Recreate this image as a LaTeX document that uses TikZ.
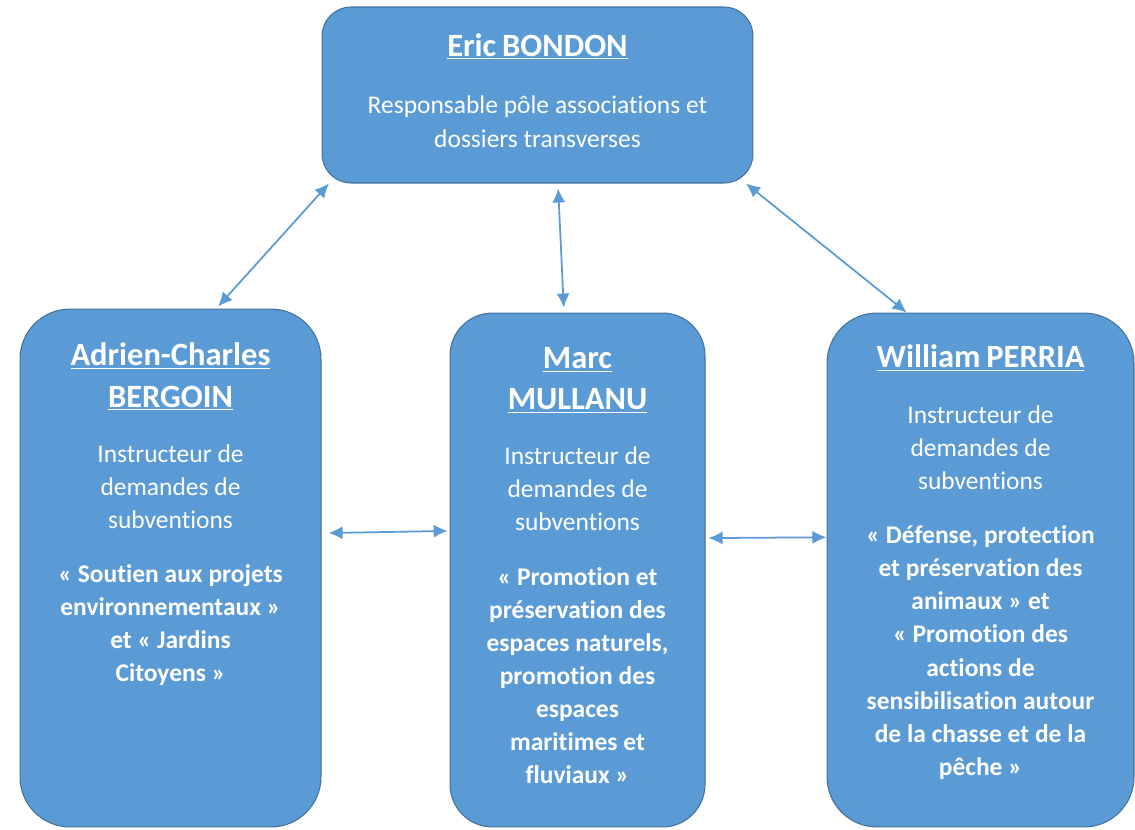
\documentclass[tikz,border=0pt]{standalone}
\usepackage{fontspec}
\setmainfont{Carlito}[Ligatures=NoCommon]
\usetikzlibrary{arrows.meta,positioning}
\definecolor{boxblue}{RGB}{91,155,213}
\definecolor{boxline}{RGB}{65,113,156}
\newcommand{\personfont}{\fontsize{18.5}{23.6}\selectfont\bfseries}
\newcommand{\rolefont}{\fontsize{14.5}{18.8}\selectfont}
\tikzset{person/.style = {shape=rectangle,draw=boxline,fill=boxblue,line width=0.6pt}}
\tikzset{info/.style = {anchor=north,inner sep=0pt,text=white,align=center}}
\tikzset{link/.style = {<->,> = {Latex[length=8pt,width=7.5pt]},draw=boxblue,line width=1pt}}

\begin{document}
\begin{tikzpicture}[x=0.02cm,y=-0.02cm]
\useasboundingbox (0,0) rectangle (1135,829);
% boxes
\node[person,minimum width=8.62cm,minimum height=3.52cm,rounded corners=0.58cm] (bondon) at (537.5,95) {};
\node[person,minimum width=6.02cm,minimum height=10.36cm,rounded corners=1cm] (bergoin) at (170.5,568) {};
\node[person,minimum width=5.1cm,minimum height=10.28cm,rounded corners=0.85cm] (mullanu) at (577.5,570) {};
\node[person,minimum width=6.14cm,minimum height=10.28cm,rounded corners=1cm] (perria) at (980.5,570) {};

% texts
\node[info,text width=8cm] (bondon-txt) at ([yshift=-15pt]bondon.north)
  {{\personfont\underline{Eric BONDON}\par}\vspace{14.2pt}
   {\rolefont Responsable pôle associations et\\dossiers transverses\par}};
\node[info,text width=5.7cm] (bergoin-txt) at ([yshift=-19.3pt]bergoin.north)
  {{\personfont\underline{Adrien-Charles}\\\underline{BERGOIN}\par}\vspace{12.5pt}
   {\rolefont Instructeur de\\demandes de\\subventions\par}\vspace{12.3pt}
   {\rolefont\bfseries «~Soutien aux projets\\environnementaux~»\\et «~Jardins\\Citoyens~»\par}};
\node[info,text width=4.8cm] (mullanu-txt) at ([yshift=-19.6pt]mullanu.north)
  {{\personfont\underline{Marc}\\\underline{MULLANU}\par}\vspace{12.5pt}
   {\rolefont Instructeur de\\demandes de\\subventions\par}\vspace{12pt}
   {\rolefont\bfseries «~Promotion et\\préservation des\\espaces naturels,\\promotion des\\espaces\\maritimes et\\fluviaux~»\par}};
\node[info,text width=5.8cm] (perria-txt) at ([yshift=-18.2pt]perria.north)
  {{\personfont\underline{William PERRIA}\par}\vspace{12.8pt}
   {\rolefont Instructeur de\\demandes de\\subventions\par}\vspace{12.3pt}
   {\rolefont\bfseries «~Défense, protection\\et préservation des\\animaux~» et\\«~Promotion des\\actions de\\sensibilisation autour\\de la chasse et de la\\pêche~»\par}};

% links
\draw[link,shorten <=1.6pt] (bergoin.80.7) to (bondon.203.6);
\draw[link,shorten <=2.8pt,shorten >=2.8pt] (bondon.283.7) to (mullanu.93.5);
\draw[link] (bondon.337.2) to (perria.106.8);
\draw[link,shorten <=4pt,shorten >=1pt] (bergoin.13.1) to (mullanu.163.8);
\draw[link,shorten <=1.7pt] (mullanu.14.5) to (perria.168.2);
\end{tikzpicture}
\end{document}
